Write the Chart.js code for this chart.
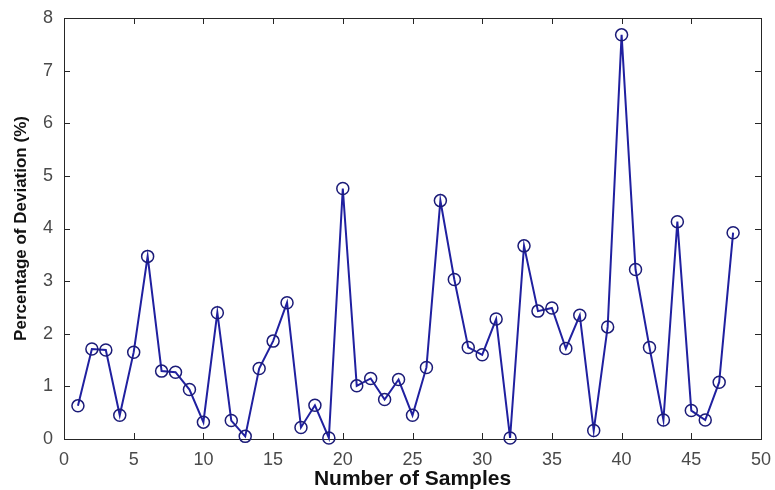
<!DOCTYPE html>
<html>
<head>
<meta charset="utf-8">
<script src="https://cdn.jsdelivr.net/npm/chart.js@4"></script>
<style>
html, body { margin: 0; padding: 0; background: #fff; }
</style>
</head>
<body>
<canvas id="myChart" width="775" height="490"></canvas>
<script>
const samples = [1, 2, 3, 4, 5, 6, 7, 8, 9, 10, 11, 12, 13, 14, 15, 16, 17, 18, 19, 20, 21, 22, 23, 24,
    25, 26, 27, 28, 29, 30, 31, 32, 33, 34, 35, 36, 37, 38, 39, 40, 41, 42, 43, 44, 45, 46, 47, 48];
const deviation = [0.63, 1.71, 1.69, 0.45, 1.65, 3.47, 1.29, 1.27, 0.94, 0.32, 2.40, 0.35,
    0.05, 1.34, 1.86, 2.59, 0.22, 0.64, 0.02, 4.76, 1.01, 1.15, 0.75, 1.13,
    0.45, 1.36, 4.53, 3.03, 1.74, 1.60, 2.28, 0.02, 3.67, 2.43, 2.49, 1.72,
    2.35, 0.16, 2.13, 7.68, 3.22, 1.74, 0.36, 4.13, 0.54, 0.36, 1.08, 3.92];
const xTicks = [0, 5, 10, 15, 20, 25, 30, 35, 40, 45, 50];
const yTicks = [0, 1, 2, 3, 4, 5, 6, 7, 8];

const fontFamily = "'Liberation Sans', Arial, sans-serif";

// matlab style box with inward ticks
const frame = {
    id: 'frame',
    beforeDatasetsDraw(chart) {
        const { ctx, chartArea: a, scales: { x, y } } = chart;
        ctx.save();
        ctx.strokeStyle = '#262626';
        ctx.lineWidth = 1;
        ctx.strokeRect(a.left + 0.5, a.top + 0.5, a.right - a.left, a.bottom - a.top);
        ctx.beginPath();
        xTicks.forEach(v => {
            const px = Math.round(x.getPixelForValue(v)) + 0.5;
            ctx.moveTo(px, a.bottom); ctx.lineTo(px, a.bottom - 6);
            ctx.moveTo(px, a.top); ctx.lineTo(px, a.top + 6);
        });
        yTicks.forEach(v => {
            const py = Math.round(y.getPixelForValue(v)) + 0.5;
            ctx.moveTo(a.left, py); ctx.lineTo(a.left + 6, py);
            ctx.moveTo(a.right, py); ctx.lineTo(a.right - 6, py);
        });
        ctx.stroke();
        ctx.restore();
    }
};

const data = {
    datasets: [{
        label: 'Deviation',
        data: samples.map((s, i) => ({ x: s, y: deviation[i] })),
        borderColor: '#2020a0',
        borderWidth: 2,
        pointStyle: 'circle',
        pointRadius: 6,
        pointBorderWidth: 1.5,
        pointBorderColor: '#1b1b78',
        pointBackgroundColor: 'rgba(0,0,0,0)',
        tension: 0,
        clip: false
    }]
};

const config = {
    type: 'line',
    data: data,
    plugins: [frame],
    options: {
        responsive: false,
        animation: false,
        layout: { padding: { top: 18, right: 14, left: 0, bottom: 0 } },
        plugins: {
            legend: { display: false },
            tooltip: { enabled: false }
        },
        scales: {
            x: {
                type: 'linear',
                min: 0,
                max: 50,
                afterBuildTicks: s => { s.ticks = xTicks.map(v => ({ value: v })); },
                afterFit: s => { s.height = 51; s.paddingLeft = 0; s.paddingRight = 0; },
                grid: { display: false, drawTicks: false },
                border: { display: false },
                ticks: {
                    padding: 10,
                    color: '#4a4a4a',
                    font: { family: fontFamily, size: 18 }
                },
                title: {
                    display: true,
                    text: 'Number of Samples',
                    color: '#111',
                    padding: { top: 0, bottom: 0 },
                    font: { family: fontFamily, size: 21, weight: 'bold', lineHeight: 1 }
                }
            },
            y: {
                min: 0,
                max: 8,
                afterBuildTicks: s => { s.ticks = yTicks.map(v => ({ value: v })); },
                afterFit: s => { s.width = 64; s.paddingTop = 0; s.paddingBottom = 0; },
                grid: { display: false, drawTicks: false },
                border: { display: false },
                ticks: {
                    padding: 11,
                    color: '#4a4a4a',
                    font: { family: fontFamily, size: 18 }
                },
                title: {
                    display: true,
                    text: 'Percentage of Deviation (%)',
                    color: '#111',
                    padding: { top: 11, bottom: 0 },
                    font: { family: fontFamily, size: 17, weight: 'bold' }
                }
            }
        }
    }
};

const myChart = new Chart(document.getElementById('myChart'), config);
</script>
</body>
</html>
